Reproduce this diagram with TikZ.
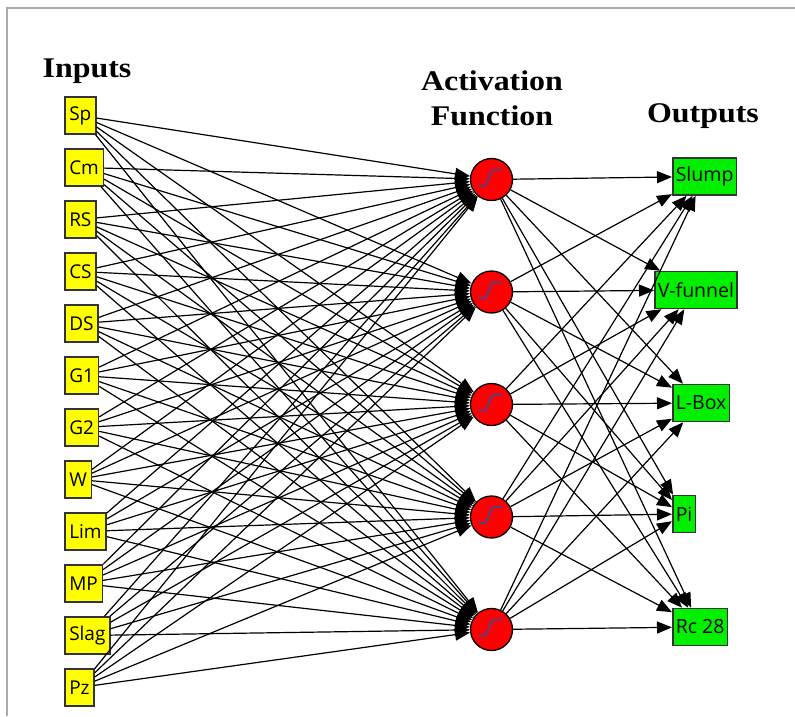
\documentclass[tikz,border=0pt]{standalone}
\usepackage{fontspec}
\setmainfont{Open Sans}
\newfontfamily\titlefont[FakeStretch=1.12]{Liberation Serif}
\usetikzlibrary{arrows.meta}
\definecolor{frame}{HTML}{AAAAAA}
\definecolor{border}{HTML}{333333}
\definecolor{ingold}{HTML}{FFFF00}
\definecolor{outgreen}{HTML}{00F000}
\definecolor{sig}{HTML}{5E3C82}
\tikzset{
  inbox/.style={draw=border, line width=1.5pt, fill=ingold, minimum height=37pt, inner xsep=4.5pt, inner ysep=0pt, anchor=west, font=\fontsize{19}{19}\selectfont},
  outbox/.style={draw=border, line width=1.5pt, fill=outgreen, minimum height=37pt, inner xsep=3pt, inner ysep=0pt, anchor=west, font=\fontsize{19.5}{19.5}\selectfont},
  neuron/.style={circle, draw=black, line width=1.3pt, fill=red, minimum size=42pt, inner sep=0pt},
  conn/.style={line width=1.2pt, -{Triangle[length=15pt,width=12pt]}},
  title/.style={anchor=base, font=\titlefont\bfseries\fontsize{28.5}{28.5}\selectfont},
}
\begin{document}
\begin{tikzpicture}[x=1pt,y=-1pt]
\useasboundingbox (0,0) rectangle (795,716);
\fill[white] (0,0) rectangle (795,716);
\draw[frame, line width=1.5pt] (7,716) -- (7,8) -- (795,8);
% titles
\node[title] (tin) at (87,77) {Inputs};
\node[title] (tact) at (492,90) {Activation};
\node[title] (tfun) at (492,125) {Function};
\node[title] (tout) at (703,122) {Outputs};
% inputs
\foreach \n/\t [count=\i from 0] in {sp/Sp,cm/Cm,rs/RS,cs/CS,ds/DS,ga/G1,gb/G2,w/W,lim/Lim,mp/MP,slag/Slag,pz/Pz}
  \node[inbox] (\n) at (64,115.5+52*\i) {\t};
% neurons
\foreach \j in {0,...,4}
  \node[neuron] (h\j) at (491.5,179.5+112.5*\j) {};
% outputs
\node[outbox] (o0) at (672,176.5) {Slump};
\node[outbox] (o1) at (654,290) {V-funnel};
\node[outbox] (o2) at (672,403) {L-Box};
\node[outbox] (o3) at (672,514) {Pi};
\node[outbox] (o4) at (672,627) {Rc 28};
% connections input -> hidden
\foreach \n in {sp,cm,rs,cs,ds,ga,gb,w,lim,mp,slag,pz}
  \foreach \j in {0,...,4}
    \draw[conn] (\n) -- (h\j);
% connections hidden -> output
\foreach \j in {0,...,4}
  \foreach \k in {0,...,4}
    \draw[conn] (h\j) -- (o\k);
% sigmoid glyphs
\foreach \j in {0,...,4}
  \draw[sig, line width=2pt, line cap=round] ([shift={(-13,6)}]h\j.center) -- ++(5,0) .. controls ++(6,0) and ++(-6,0) .. ++(11,-16) -- ++(7,0);
\end{tikzpicture}
\end{document}
